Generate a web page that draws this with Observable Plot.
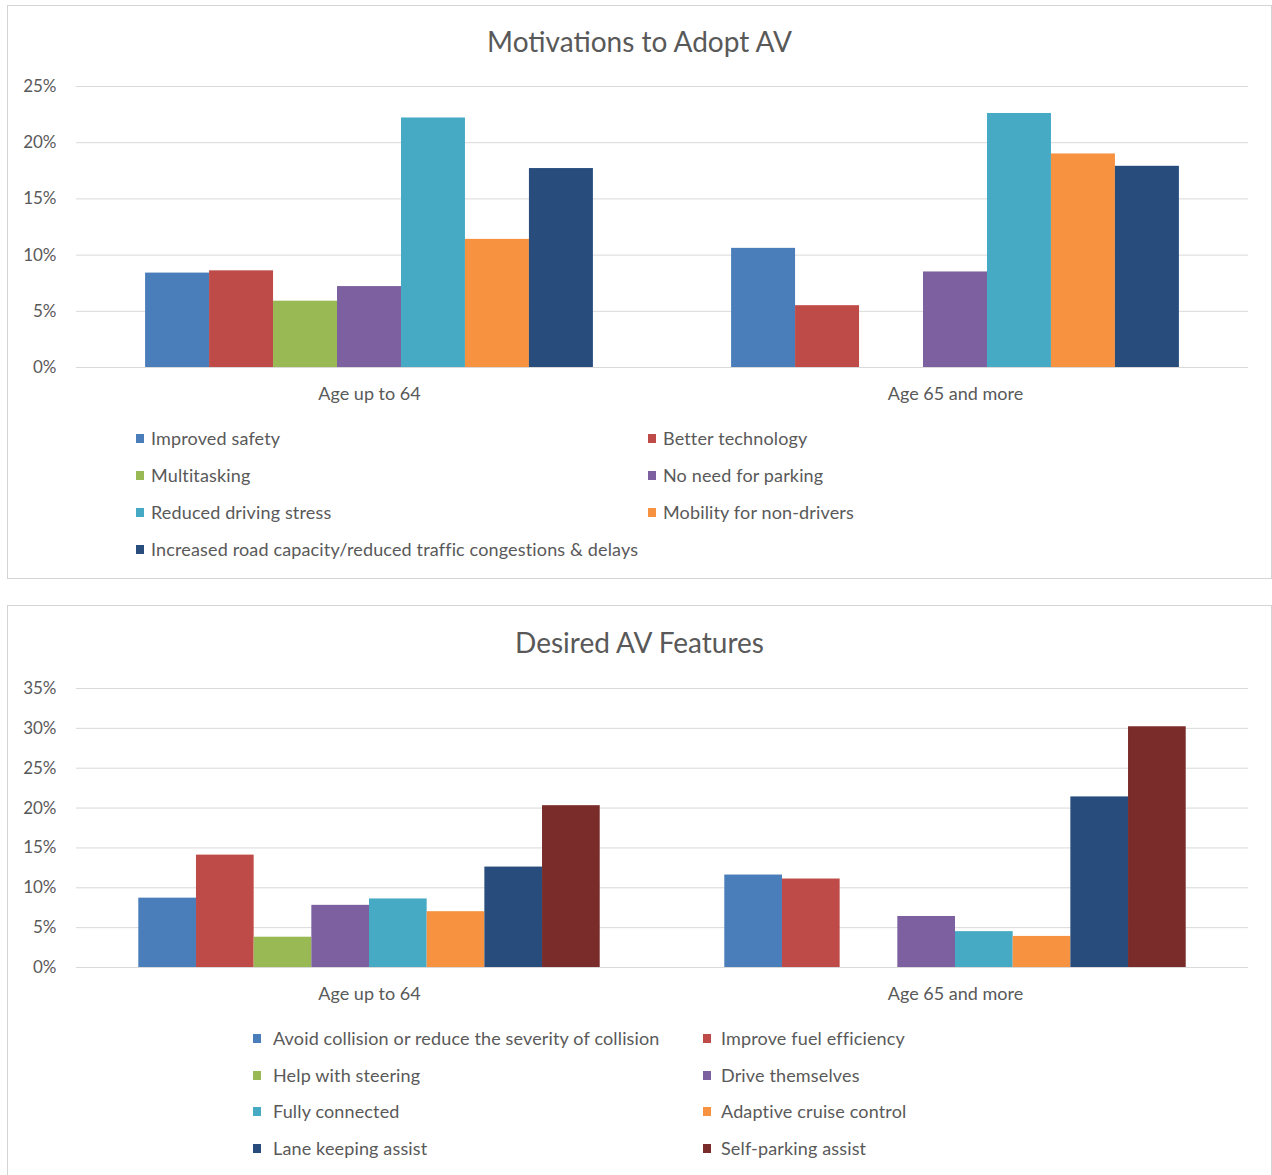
<!DOCTYPE html>
<html>
<head>
<meta charset="utf-8">
<script src="https://cdn.jsdelivr.net/npm/d3@7"></script>
<script src="https://cdn.jsdelivr.net/npm/@observablehq/plot@0.6"></script>
<style>
  html, body { margin: 0; padding: 0; background: #fff; }
  body { width: 1272px; height: 1175px; position: relative; overflow: hidden; font-family: Lato, "Open Sans", sans-serif; color: #595959; }
  .box { position: absolute; border: 1px solid #d4d4d4; box-sizing: border-box; background: #fff; }
  .title { position: absolute; text-align: center; font-size: 28px; line-height: 30px; color: #595959; }
  .plot { position: absolute; left: 0; }
  .leg { position: absolute; font-size: 18px; letter-spacing: 0.15px; line-height: 20px; color: #595959; white-space: nowrap; }
  .sw { position: absolute; width: 8px; height: 9px; }
</style>
</head>
<body>
<div class="box" style="left:7px;top:5px;width:1265px;height:574px"></div>
<div class="box" style="left:7px;top:605px;width:1265px;height:600px"></div>
<div class="title" style="left:7px;width:1265px;top:26px">Motivations to Adopt AV</div>
<div class="title" style="left:7px;width:1265px;top:627px">Desired AV Features</div>
<div id="chart1" class="plot" style="top:70px"></div>
<div id="chart2" class="plot" style="top:670px"></div>
<div id="legend1"></div>
<div id="legend2"></div>
<script>
// ---- Data ----
const groups = ["Age up to 64", "Age 65 and more"];

const motivationSeries = [
  "Improved safety",
  "Better technology",
  "Multitasking",
  "No need for parking",
  "Reduced driving stress",
  "Mobility for non-drivers",
  "Increased road capacity/reduced traffic congestions & delays"
];
const motivationColors = ["#4A7EBB", "#BE4B48", "#98B954", "#7D60A0", "#46AAC5", "#F69240", "#284D7D"];
const motivationUpTo64 = [8.4, 8.6, 5.9, 7.2, 22.2, 11.4, 17.7];
const motivation65Plus = [10.6, 5.5, 0, 8.5, 22.6, 19.0, 17.9];
const motivationTicks = [0, 5, 10, 15, 20, 25];

const featureSeries = [
  "Avoid collision or reduce the severity of collision",
  "Improve fuel efficiency",
  "Help with steering",
  "Drive themselves",
  "Fully connected",
  "Adaptive cruise control",
  "Lane keeping assist",
  "Self-parking assist"
];
const featureColors = ["#4A7EBB", "#BE4B48", "#98B954", "#7D60A0", "#46AAC5", "#F69240", "#284D7D", "#7A2C2A"];
const featuresUpTo64 = [8.7, 14.1, 3.8, 7.8, 8.6, 7.0, 12.6, 20.3];
const features65Plus = [11.6, 11.1, 0, 6.4, 4.5, 3.9, 21.4, 30.2];
const featureTicks = [0, 5, 10, 15, 20, 25, 30, 35];

// ---- Build ----
function buildRows(series, a, b) {
  const rows = [];
  series.forEach((s, i) => {
    rows.push({group: groups[0], series: s, value: a[i]});
    rows.push({group: groups[1], series: s, value: b[i]});
  });
  return rows;
}

function makeChart(series, colors, a, b, ticks, marginTop) {
  const rows = buildRows(series, a, b);
  return Plot.plot({
    width: 1272,
    height: 340,
    marginLeft: 76,
    marginRight: 24,
    marginTop: marginTop,
    marginBottom: 43,
    style: {fontFamily: "Lato, sans-serif", fontSize: "17px", color: "#595959", background: "transparent"},
    fx: {domain: groups, padding: 0, label: null, round: false},
    x: {domain: series, paddingInner: 0, paddingOuter: 1.08, round: false, axis: null},
    y: {domain: [0, ticks[ticks.length - 1]], label: null},
    color: {domain: series, range: colors},
    marks: [
      Plot.ruleY(ticks, {stroke: "#d9d9d9", strokeWidth: 1}),
      Plot.barY(rows, {fx: "group", x: "series", y: "value", fill: "series"}),
      Plot.axisY(ticks, {tickSize: 0, tickPadding: 20, tickFormat: d => d + "%", fontSize: 17, fill: "#595959", label: null}),
      Plot.axisFx({anchor: "bottom", tickSize: 0, tickPadding: 20, fontSize: 18, fill: "#595959", label: null})
    ]
  });
}

document.getElementById("chart1").appendChild(
  makeChart(motivationSeries, motivationColors, motivationUpTo64, motivation65Plus, motivationTicks, 16)
);
document.getElementById("chart2").appendChild(
  makeChart(featureSeries, featureColors, featuresUpTo64, features65Plus, featureTicks, 18)
);

function makeLegend(containerId, series, colors, col1Sw, col1Text, col2Sw, col2Text, rowCenters) {
  const el = document.getElementById(containerId);
  series.forEach((s, i) => {
    const col = i % 2, row = Math.floor(i / 2);
    const cy = rowCenters[row];
    const sw = document.createElement("div");
    sw.className = "sw";
    sw.style.left = (col === 0 ? col1Sw : col2Sw) + "px";
    sw.style.top = (cy - 4) + "px";
    sw.style.background = colors[i];
    el.appendChild(sw);
    const t = document.createElement("div");
    t.className = "leg";
    t.style.left = (col === 0 ? col1Text : col2Text) + "px";
    t.style.top = (cy - 10) + "px";
    t.textContent = s;
    el.appendChild(t);
  });
}

makeLegend("legend1", motivationSeries, motivationColors, 136, 151, 648, 663, [438, 475, 512, 549]);
makeLegend("legend2", featureSeries, featureColors, 253, 273, 703, 721, [1038, 1075, 1111, 1148]);
</script>
</body>
</html>
